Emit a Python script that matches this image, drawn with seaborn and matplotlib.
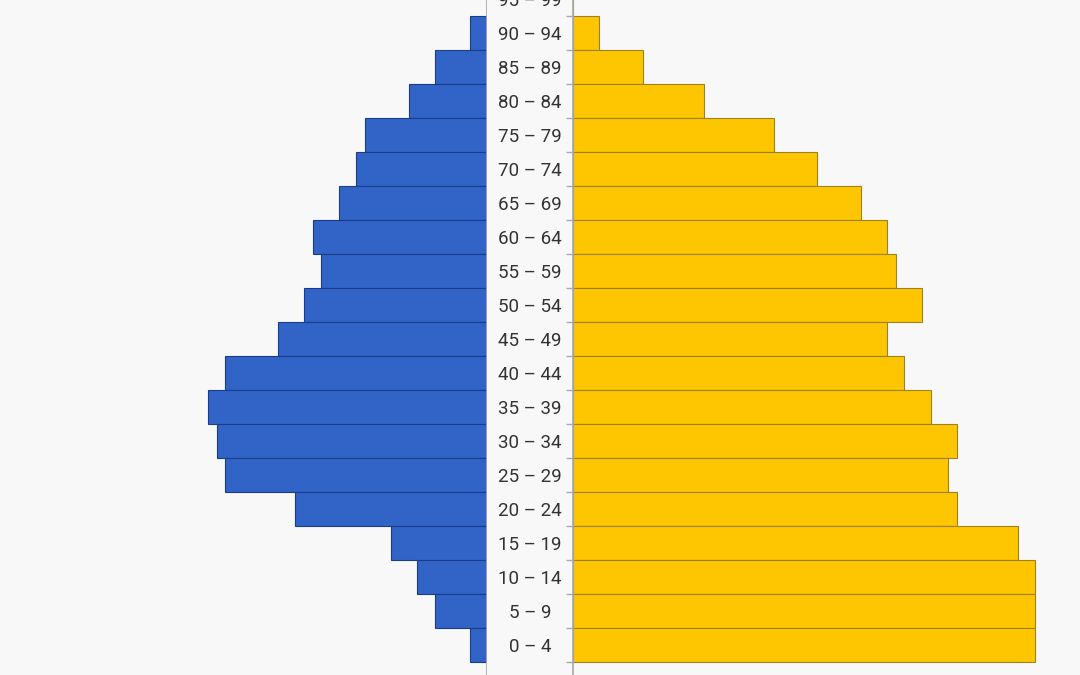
import numpy as np
import pandas as pd
import matplotlib
matplotlib.use("Agg")
import matplotlib.pyplot as plt
import seaborn as sns

# age groups, top to bottom
age_groups = ["95 – 99", "90 – 94", "85 – 89", "80 – 84", "75 – 79", "70 – 74",
              "65 – 69", "60 – 64", "55 – 59", "50 – 54", "45 – 49", "40 – 44",
              "35 – 39", "30 – 34", "25 – 29", "20 – 24", "15 – 19", "10 – 14",
              "5 – 9", "0 – 4"]
left_values = [0, 2, 6, 9, 14, 15, 17, 20, 19, 21, 24, 30,
               32, 31, 30, 22, 11, 8, 6, 2]
right_values = [0, 3, 8, 15, 23, 28, 33, 36, 37, 40, 36, 38,
                41, 44, 43, 44, 51, 53, 53, 53]

BLUE = "#3264c8"
YELLOW = "#fec601"
BG = "#f8f8f8"

sns.set_theme(style="white")
plt.rcParams["font.family"] = ["Roboto", "DejaVu Sans"]

fig = plt.figure(figsize=(10.8, 6.75), dpi=100, facecolor=BG)

W, H = 1080, 675
row_px = 34
bottom_edge_px = 662  # bottom of the 0-4 row
n = len(age_groups)
# data y at figure top / bottom (rows are 1 unit, first row centered at 0)
y_top = (n - 0.5) - bottom_edge_px / row_px
y_bot = (n - 0.5) + (H - bottom_edge_px) / row_px

px_per_unit = 8.72
left_w, mid_w = 487, 86

ax_l = fig.add_axes([0, 0, left_w / W, 1])
ax_m = fig.add_axes([left_w / W, 0, mid_w / W, 1])
ax_r = fig.add_axes([(left_w + mid_w) / W, 0, 1 - (left_w + mid_w) / W, 1])

df = pd.DataFrame({"age": age_groups, "left": left_values, "right": right_values})

sns.barplot(data=df, x="left", y="age", orient="h", color=BLUE, saturation=1,
            width=1.0, edgecolor="#1d3c86", linewidth=0.8, ax=ax_l)
sns.barplot(data=df, x="right", y="age", orient="h", color=YELLOW, saturation=1,
            width=1.0, edgecolor="#9c8220", linewidth=0.8, ax=ax_r)

ax_l.set_xlim(left_w / px_per_unit, 0)
ax_r.set_xlim(0, (W - left_w - mid_w) / px_per_unit)

# row boundaries, tick marks only
bounds = np.arange(0.5, n, 1.0)
ax_l.yaxis.tick_right()
ax_l.set_yticks(bounds)
ax_l.set_yticklabels([])
ax_l.tick_params(axis="y", right=True, left=False, direction="out",
                 length=5, color="#aaaaaa", width=1)
ax_r.set_yticks(bounds)
ax_r.set_yticklabels([])
ax_r.tick_params(axis="y", left=True, right=False, direction="out",
                 length=5, color="#aaaaaa", width=1)
ax_m.set_yticks([])

for ax in (ax_l, ax_m, ax_r):
    ax.set_facecolor(BG)
    ax.set_xlabel("")
    ax.set_ylabel("")
    ax.set_xticks([])
    for s in ax.spines.values():
        s.set_visible(False)
    ax.set_ylim(y_bot, y_top)

ax_l.spines["right"].set_visible(True)
ax_l.spines["right"].set_color("#aaaaaa")
ax_r.spines["left"].set_visible(True)
ax_r.spines["left"].set_color("#aaaaaa")

ax_m.set_xlim(0, 1)
for i, lab in enumerate(age_groups):
    ax_m.text(0.5, i + 0.05, lab, ha="center", va="center", fontsize=13.5, color="#333333")

fig.savefig("out.png", dpi=100, facecolor=BG)
